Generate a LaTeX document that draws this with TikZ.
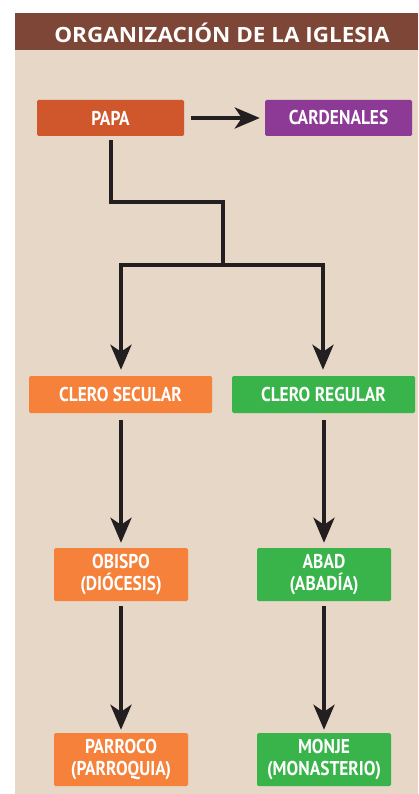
\documentclass[tikz,border=0pt]{standalone}
\usepackage{fontspec}
\setmainfont{PT Sans}
\newfontfamily\boxfont{PT Sans}[FakeStretch=0.87]
\newfontfamily\titlefont{Open Sans}[FakeStretch=1.07]
\usetikzlibrary{arrows.meta}
\definecolor{bgbeige}{HTML}{E6D7C6}
\definecolor{hdrbrown}{HTML}{7D4636}
\definecolor{papacol}{HTML}{D0572B}
\definecolor{cardcol}{HTML}{8C3A96}
\definecolor{orangecol}{HTML}{F5813A}
\definecolor{greencol}{HTML}{38B44A}
\definecolor{linecol}{HTML}{231F20}
\tikzset{
  box/.style={rectangle, rounded corners=1.5pt, text=white, inner sep=0pt,
    align=center, font=\boxfont\bfseries\fontsize{20}{24}\selectfont},
  wide/.style={box, minimum width=147pt, minimum height=36pt},
  mid/.style={box, minimum width=183pt, minimum height=37pt},
  tall/.style={box, minimum width=134pt, minimum height=53pt},
  conn/.style={draw=linecol, line width=4pt},
  arr/.style={conn, -{Stealth[length=25pt,width=21pt,inset=7pt]}},
}
\begin{document}
\begin{tikzpicture}[x=1pt,y=-1pt]
\useasboundingbox (0,0) rectangle (418,794);
\fill[white] (0,0) rectangle (418,794);
\fill[bgbeige] (15,13) rectangle (418,794);
\fill[hdrbrown] (15,13) rectangle (418,50);
\node[text=white, font=\titlefont\bfseries\fontsize{21}{24}\selectfont] (title) at (222,32.5) {ORGANIZACIÓN DE LA IGLESIA};

\node[wide, fill=papacol] (papa) at (110.5,118) {PAPA};
\node[wide, fill=cardcol] (card) at (338.5,118) {CARDENALES};
\node[mid, fill=orangecol] (sec) at (120.5,394.5) {CLERO SECULAR};
\node[mid, fill=greencol] (reg) at (323.5,394.5) {CLERO REGULAR};
\node[tall, fill=orangecol] (obi) at (121,574.5) {OBISPO\\[-2pt](DIÓCESIS)};
\node[tall, fill=greencol] (abad) at (324,574.5) {ABAD\\[-2pt](ABADÍA)};
\node[tall, fill=orangecol] (parr) at (121,759.5) {PARROCO\\[-2pt](PARROQUIA)};
\node[tall, fill=greencol] (monje) at (324,759.5) {MONJE\\[-2pt](MONASTERIO)};

\coordinate (j1) at (111,202);
\coordinate (j2) at (223,202);
\coordinate (j3) at (223,265);
\coordinate (jl) at (121,265);
\coordinate (jr) at (323,265);

\draw[arr, shorten <=7pt, shorten >=5pt] (papa) -- (card);
\draw[conn, line join=miter, shorten <=4pt] (j1 |- papa.south) -- (j1) -- (j2) -- (j3);
\draw[conn, line cap=rect] (jl) -- (jr);
\draw[arr, shorten >=6pt] (jl) -- (jl |- sec.north);
\draw[arr, shorten >=6pt] (jr) -- (jr |- reg.north);
\draw[arr, shorten <=7pt, shorten >=5pt] (sec.south -| obi) -- (obi.north);
\draw[arr, shorten <=7pt, shorten >=5pt] (reg.south -| abad) -- (abad.north);
\draw[arr, shorten <=5pt, shorten >=3pt] (obi.south) -- (parr.north);
\draw[arr, shorten <=5pt, shorten >=3pt] (abad.south) -- (monje.north);
\end{tikzpicture}
\end{document}
